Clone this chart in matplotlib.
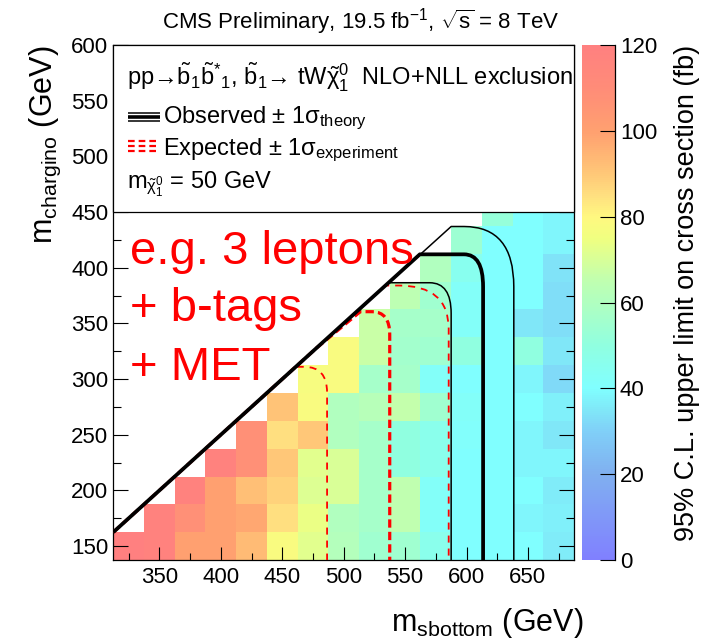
import numpy as np
import matplotlib
matplotlib.use("Agg")
import matplotlib.pyplot as plt
from matplotlib.colors import LinearSegmentedColormap, Normalize
from matplotlib.path import Path
from matplotlib.patches import PathPatch, Rectangle

plt.rcParams['font.family'] = ['Liberation Sans', 'DejaVu Sans']
plt.rcParams['mathtext.fontset'] = 'custom'
plt.rcParams['mathtext.rm'] = 'Liberation Sans'
plt.rcParams['mathtext.it'] = 'Liberation Sans'
plt.rcParams['mathtext.bf'] = 'Liberation Sans:bold'
plt.rcParams['mathtext.sf'] = 'Liberation Sans'

# ---- scan grid (GeV) ----
m_sbottom = [325, 350, 375, 400, 425, 450, 475, 500, 525, 550, 575, 600, 625, 650, 675]
m_chargino = [150, 175, 200, 225, 250, 275, 300, 325, 350, 375, 400, 425, 450]

nan = np.nan
# 95% CL upper limit on the cross section (fb), one row per chargino mass
limit_fb = [
    [120, 118, 100, 100, 93, 78, 72, 61, 55, 55, 46, 40, 40, 40, 36],
    [nan, 118, 108, 100, 98, 85, 74, 60, 57, 65, 42, 40, 40, 38, 37],
    [nan, nan, 118, 100, 92, 88, 71, 70, 57, 65, 42, 40, 40, 40, 36],
    [nan, nan, nan, 118, 108, 90, 72, 70, 57, 50, 46, 40, 40, 38, 38],
    [nan, nan, nan, nan, 108, 85, 90, 60, 57, 50, 46, 41, 40, 38, 35],
    [nan, nan, nan, nan, nan, 91, 78, 60, 62, 66, 55, 42, 40, 40, 37],
    [nan, nan, nan, nan, nan, nan, 77, 78, 57, 57, 42, 40, 40, 38, 32],
    [nan, nan, nan, nan, nan, nan, nan, 78, 67, 56, 55, 50, 40, 50, 35],
    [nan, nan, nan, nan, nan, nan, nan, nan, 67, 57, 57, 42, 40, 35, 33],
    [nan, nan, nan, nan, nan, nan, nan, nan, nan, 64, 55, 42, 40, 40, 33],
    [nan, nan, nan, nan, nan, nan, nan, nan, nan, nan, 60, 45, 40, 40, 34],
    [nan, nan, nan, nan, nan, nan, nan, nan, nan, nan, nan, 54, 40, 40, 38],
    [nan, nan, nan, nan, nan, nan, nan, nan, nan, nan, nan, nan, 52, 40, 38],
]

# ---- exclusion contours: points along the kinematic edge, then
#      corner start, corner control point, corner end, bottom ----
obs_x = [312.5, 562.0, 598.0, 613.5, 613.5, 613.5]
obs_y = [162.5, 412.0, 412.0, 412.0, 383.0, 137.5]
obs_up_x = [312.5, 587.5, 598.0, 638.5, 638.5, 638.5]
obs_up_y = [162.5, 437.0, 437.0, 437.0, 383.0, 137.5]
obs_dn_x = [312.5, 536.5, 570.0, 587.5, 587.5, 587.5]
obs_dn_y = [162.5, 386.5, 386.5, 386.5, 359.0, 137.5]
exp_x = [312.5, 478.0, 513.5, 523.0, 537.5, 537.5, 537.5]
exp_y = [162.5, 328.0, 360.5, 360.5, 360.5, 340.0, 137.5]
exp_up_x = [312.5, 534.0, 545.0, 585.5, 585.5, 585.5]
exp_up_y = [162.5, 384.0, 384.0, 384.0, 345.0, 137.5]
exp_dn_x = [312.5, 461.5, 468.0, 486.5, 486.5, 486.5]
exp_dn_y = [162.5, 311.0, 311.0, 311.0, 288.0, 137.5]

# ---- colour palette (fb) ----
palette_values = [0, 10, 20, 30, 35, 40, 45, 50, 55, 60, 65, 70, 75, 80, 85, 90, 100, 110, 120]
palette_colors = ['#8080ff', '#8098f8', '#80b0f0', '#80d0f8', '#80e8f8', '#80ffff',
                  '#88fff0', '#90ffe0', '#a0ffd0', '#b0ffc0', '#c0ffb0', '#d8ff98',
                  '#f0ff80', '#fff880', '#ffe080', '#ffc878', '#ffa070', '#ff8c78',
                  '#ff8080']
z_min, z_max = 0, 120

cmap = LinearSegmentedColormap.from_list(
    'limits', [((v - z_min) / (z_max - z_min), c) for v, c in zip(palette_values, palette_colors)])
norm = Normalize(z_min, z_max)

fig = plt.figure(figsize=(7.03, 6.39), dpi=100)
ax = fig.add_axes([0.1612, 0.1236, 0.6553, 0.806])
cax = fig.add_axes([0.8279, 0.1236, 0.0469, 0.806])

xs = np.array(m_sbottom, float)
ys = np.array(m_chargino, float)
dx = xs[1] - xs[0]
dy = ys[1] - ys[0]
x_edges = np.append(xs - dx / 2, xs[-1] + dx / 2)
y_edges = np.append(ys - dy / 2, ys[-1] + dy / 2)
Z = np.ma.masked_invalid(np.array(limit_fb, float))
mesh = ax.pcolormesh(x_edges, y_edges, Z, cmap=cmap, norm=norm, shading='flat',
                     edgecolor='none', zorder=1)

ax.set_xlim(312.5, 687.5)
ax.set_ylim(137.5, 600)


def contour_patch(xv, yv, **kw):
    n = len(xv)
    codes = [Path.MOVETO] + [Path.LINETO] * (n - 4) + [Path.CURVE3, Path.CURVE3, Path.LINETO]
    p = Path(np.column_stack([xv, yv]), codes)
    return PathPatch(p, fill=False, capstyle='butt', joinstyle='round', **kw)


red = '#ff0000'
ax.add_patch(contour_patch(exp_dn_x, exp_dn_y, edgecolor=red, lw=1.3,
                           linestyle=(0, (3.9, 3.3)), zorder=3))
ax.add_patch(contour_patch(exp_up_x, exp_up_y, edgecolor=red, lw=1.3,
                           linestyle=(0, (3.9, 3.3)), zorder=3))
ax.add_patch(contour_patch(exp_x, exp_y, edgecolor=red, lw=2.3,
                           linestyle=(0, (2.6, 1.3)), zorder=3.1))
ax.add_patch(contour_patch(obs_up_x, obs_up_y, edgecolor='black', lw=1.1, zorder=3.5))
ax.add_patch(contour_patch(obs_dn_x, obs_dn_y, edgecolor='black', lw=1.1, zorder=3.5))
ax.add_patch(contour_patch(obs_x, obs_y, edgecolor='black', lw=2.7, zorder=3.6))

# axes ticks
ax.set_xticks([350, 400, 450, 500, 550, 600, 650])
ax.set_xticks(np.arange(325, 700, 50), minor=True)
ax.set_yticks([150, 200, 250, 300, 350, 400, 450, 500, 550, 600])
ax.set_yticks(np.arange(175, 600, 50), minor=True)
ax.tick_params(which='both', direction='in', top=True, right=True, width=0.8, colors='black')
ax.tick_params(axis='x', which='major', length=9.5, pad=5, labelsize=16)
ax.tick_params(axis='x', which='minor', length=5)
ax.tick_params(axis='y', which='major', length=11, pad=3.5, labelsize=16)
ax.tick_params(axis='y', which='minor', length=5.5)
for s in ax.spines.values():
    s.set_linewidth(0.9)

# header box inside the frame
y_box = (450 - 137.5) / (600 - 137.5)
ax.add_patch(Rectangle((0, y_box), 1, 1 - y_box, transform=ax.transAxes,
                       facecolor='white', edgecolor='black', lw=0.9,
                       zorder=4, clip_on=False))

ax.text(0.0298, 0.9204,
        r'pp→$\tilde{\mathrm{b}}_1\tilde{\mathrm{b}}^{*}{}_1$, '
        r'$\tilde{\mathrm{b}}_1$→ tW$\tilde{\chi}^0_1$  NLO+NLL exclusion',
        transform=ax.transAxes, fontsize=17, va='baseline', ha='left', zorder=6)
ax.text(0.1086, 0.8485, r'Observed $\pm$ 1$\sigma_{\mathrm{theory}}$',
        transform=ax.transAxes, fontsize=17, va='baseline', ha='left', zorder=6)
ax.text(0.1086, 0.787, r'Expected $\pm$ 1$\sigma_{\mathrm{experiment}}$',
        transform=ax.transAxes, fontsize=17, va='baseline', ha='left', zorder=6)
ax.text(0.0298, 0.7204, r'm$_{\tilde{\chi}^0_1}$ = 50 GeV',
        transform=ax.transAxes, fontsize=17, va='baseline', ha='left', zorder=6)

lx = [0.0311, 0.1008]
for yy, lw in [(0.868, 1.1), (0.8602, 2.6), (0.8524, 1.1)]:
    ax.plot(lx, [yy, yy], color='black', lw=lw, transform=ax.transAxes,
            clip_on=False, zorder=6, solid_capstyle='butt')
for yy in [0.8144, 0.8047, 0.7948]:
    ax.plot(lx, [yy, yy], color=red, lw=1.6, dashes=(3.0, 1.8), transform=ax.transAxes,
            clip_on=False, zorder=6, dash_capstyle='butt')

# analysis note
for yy, line in [(0.5753, 'e.g. 3 leptons'), (0.4647, '+ b-tags'), (0.3505, '+ MET')]:
    ax.text(0.0367, yy, line, transform=ax.transAxes, color=red, fontsize=34,
            va='baseline', ha='left', zorder=6)

# colour bar
cb = fig.colorbar(mesh, cax=cax)
cb.outline.set_visible(False)
cb.set_ticks([0, 20, 40, 60, 80, 100, 120])
cax.tick_params(direction='in', length=10.5, width=0.8, pad=3.5, labelsize=16,
                right=True, left=False)
cax.plot([1, 1], [0, 1], transform=cax.transAxes, color='black', lw=0.9, clip_on=False)

fig.text(0.9775, 0.929, '95% C.L. upper limit on cross section (fb)', rotation=90,
         fontsize=19.5, ha='center', va='top')
fig.text(0.83, 0.013, r'm$_{\mathrm{sbottom}}$ (GeV)', fontsize=22, ha='right', va='baseline')
fig.text(0.064, 0.929, r'm$_{\mathrm{chargino}}$ (GeV)', rotation=90, fontsize=22,
         ha='center', va='top')
fig.text(0.5135, 0.9546, r'CMS Preliminary, 19.5 fb$^{-1}$, $\sqrt{\mathrm{s}}$ = 8 TeV',
         fontsize=16, ha='center', va='baseline')

fig.savefig('out.png', dpi=100)
